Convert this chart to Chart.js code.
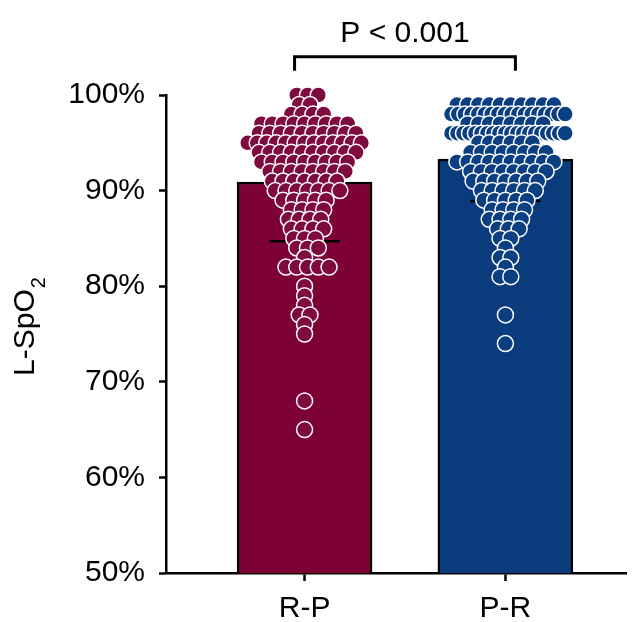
<!DOCTYPE html>
<html>
<head>
<meta charset="utf-8">
<script src="https://cdn.jsdelivr.net/npm/chart.js@4"></script>
<style>
  body { margin: 0; background: #fff; }
  #wrap { width: 636px; height: 622px; position: relative; }
</style>
</head>
<body>
<div id="wrap"><canvas id="chart"></canvas></div>
<script>
// group names and summary values (mean, SD)
const categories = ['R-P', 'P-R']
const means = [90.9, 93.3]
const sds = [6.2, 4.4]
const yTicks = [50, 60, 70, 80, 90, 100]

// individual L-SpO2 readings (%)
const rpValues = [
  100, 100, 100,
  99, 99,
  98, 98, 98, 98,
  97, 97, 97, 97, 97, 97, 97, 97, 97,
  96, 96, 96, 96, 96, 96, 96, 96, 96, 96,
  95, 95, 95, 95, 95, 95, 95, 95, 95, 95, 95, 95, 95,
  94, 94, 94, 94, 94, 94, 94, 94, 94, 94,
  93, 93, 93, 93, 93, 93, 93, 93, 93,
  92, 92, 92, 92, 92, 92, 92, 92,
  91, 91, 91, 91, 91, 91, 91,
  90, 90, 90, 90, 90, 90, 90,
  89, 89, 89, 89, 89,
  88, 88, 88, 88,
  87, 87, 87, 87,
  86, 86, 86, 86,
  85, 85, 85,
  84, 84, 84,
  83,
  82, 82, 82, 82, 82,
  80, 79, 78, 77, 77, 76, 75,
  68, 65
]
const prValues = [
  99, 99, 99, 99, 99, 99, 99, 99, 99, 99,
  98, 98, 98, 98, 98, 98, 98, 98, 98, 98, 98, 98, 98, 98, 98, 98, 98, 98,
  97, 97, 97, 97, 97, 97, 97, 97,
  96, 96, 96, 96, 96, 96, 96, 96, 96, 96, 96, 96, 96, 96, 96, 96, 96, 96, 96, 96,
  95, 95, 95, 95, 95, 95,
  94, 94, 94, 94, 94, 94, 94, 94,
  93, 93, 93, 93, 93, 93, 93, 93, 93, 93,
  92, 92, 92, 92, 92, 92, 92, 92,
  91, 91, 91, 91, 91, 91, 91,
  90, 90, 90, 90, 90, 90,
  89, 89, 89, 89, 89,
  88, 88, 88, 88,
  87, 87, 87, 87,
  86, 86, 86,
  85, 85,
  84,
  83, 83,
  82,
  81, 81,
  77, 74
]
const pLabel = 'P < 0.001'

const barColors = ['#7d0036', '#0a3b7c']
const dotColors = ['#7f0a3e', '#0b3f82']
const FONT = "'Liberation Sans', Arial, sans-serif"

const X_MIN = 0.31
const X_MAX = 2.603
const PLOT_W = 636 - 166
const pxPerUnit = PLOT_W / (X_MAX - X_MIN)

// spread points with the same value side by side (simple beeswarm)
function swarm(values, center){
    let counts = {}
    for(let v of values) counts[v] = (counts[v] || 0) + 1
    let seen = {}
    let pts = []
    for(let v of values){
        let n = counts[v]
        let i = seen[v] || 0
        seen[v] = i + 1
        let step = n > 1 ? Math.min(11, 116 / (n - 1)) : 0
        let shift = (v % 2) ? 0 : 3
        let off = (i - (n - 1) / 2) * step + (n > 1 ? shift : 0)
        pts.push({x: center + off / pxPerUnit, y: v})
    }
    return pts
}

const errorBars = {
    id: 'errorBars',
    afterDatasetDraw(chart, args){
        if(args.index !== 0) return
        let ctx = chart.ctx
        let xs = chart.scales.x, ys = chart.scales.y
        ctx.save()
        ctx.strokeStyle = '#000'
        ctx.lineWidth = 2.5
        means.forEach((m, i) => {
            let cx = xs.getPixelForValue(i + 1)
            let top = ys.getPixelForValue(m + sds[i])
            let bot = ys.getPixelForValue(m - sds[i])
            ctx.beginPath()
            ctx.moveTo(cx, top); ctx.lineTo(cx, bot)
            ctx.moveTo(cx - 35, bot); ctx.lineTo(cx + 35, bot)
            ctx.moveTo(cx - 35, top); ctx.lineTo(cx + 35, top)
            ctx.stroke()
        })
        ctx.restore()
    }
}

const extras = {
    id: 'extras',
    afterDraw(chart){
        let ctx = chart.ctx
        let xs = chart.scales.x, ys = chart.scales.y
        ctx.save()
        // significance bracket
        let x1 = xs.getPixelForValue(1) - 10
        let x2 = xs.getPixelForValue(2) + 10
        let by = ys.getPixelForValue(104)
        ctx.strokeStyle = '#000'
        ctx.lineWidth = 3
        ctx.beginPath()
        ctx.moveTo(x1, by + 14); ctx.lineTo(x1, by); ctx.lineTo(x2, by); ctx.lineTo(x2, by + 14)
        ctx.stroke()
        ctx.fillStyle = '#000'
        ctx.font = `30px ${FONT}`
        ctx.textAlign = 'center'
        ctx.textBaseline = 'alphabetic'
        ctx.fillText(pLabel, (x1 + x2) / 2, by - 15)

        // y axis title with subscript
        let cy = (chart.chartArea.top + chart.chartArea.bottom) / 2
        ctx.translate(34, cy - 7)
        ctx.rotate(-Math.PI / 2)
        ctx.font = `30px ${FONT}`
        let main = 'L-SpO'
        let w1 = ctx.measureText(main).width
        ctx.font = `20px ${FONT}`
        let w2 = ctx.measureText('2').width
        let start = -(w1 + w2) / 2
        ctx.textAlign = 'left'
        ctx.font = `30px ${FONT}`
        ctx.fillText(main, start, 0)
        ctx.font = `20px ${FONT}`
        ctx.fillText('2', start + w1 + 1, 11)
        ctx.restore()
    }
}

let chart = new Chart(document.getElementById('chart'), {
    type: 'bar',
    data: {
        datasets: [
            {
                type: 'bar',
                data: means.map((m, i) => ({x: i + 1, y: m})),
                backgroundColor: barColors,
                borderColor: '#000',
                borderWidth: 2.5,
                barThickness: 135,
                order: 2
            },
            {
                type: 'scatter',
                data: swarm(rpValues, 1),
                backgroundColor: dotColors[0],
                borderColor: '#ffffff',
                borderWidth: 1.5,
                pointRadius: 8,
                clip: false,
                order: 1
            },
            {
                type: 'scatter',
                data: swarm(prValues, 2),
                backgroundColor: dotColors[1],
                borderColor: '#ffffff',
                borderWidth: 1.5,
                pointRadius: 8,
                clip: false,
                order: 1
            }
        ]
    },
    options: {
        responsive: true,
        maintainAspectRatio: false,
        animation: false,
        layout: { padding: { top: 95, right: 0, left: 0, bottom: 0 } },
        plugins: {
            legend: { display: false },
            tooltip: { enabled: false }
        },
        scales: {
            x: {
                type: 'linear',
                min: X_MIN,
                max: X_MAX,
                offset: false,
                afterBuildTicks: s => { s.ticks = categories.map((c, i) => ({value: i + 1})) },
                afterFit: s => { s.height = 622 - 573 },
                border: { display: true, color: '#000', width: 2.5 },
                grid: { display: true, offset: false, drawOnChartArea: false, drawTicks: true, tickLength: 8, tickWidth: 2.5, tickColor: '#000' },
                ticks: {
                    color: '#000',
                    font: { size: 30, family: FONT },
                    padding: 10,
                    maxRotation: 0,
                    autoSkip: false,
                    callback: v => categories[v - 1]
                }
            },
            y: {
                min: 50,
                max: 100,
                afterBuildTicks: s => { s.ticks = yTicks.map(v => ({value: v})) },
                afterFit: s => { s.width = 166 },
                border: { display: true, color: '#000', width: 2.5 },
                grid: { display: true, drawOnChartArea: false, drawTicks: true, tickLength: 7, tickWidth: 2.5, tickColor: '#000' },
                ticks: {
                    color: '#000',
                    font: { size: 30, family: FONT },
                    padding: 14,
                    callback: v => v + '%'
                }
            }
        }
    },
    plugins: [errorBars, extras]
})
</script>
</body>
</html>
